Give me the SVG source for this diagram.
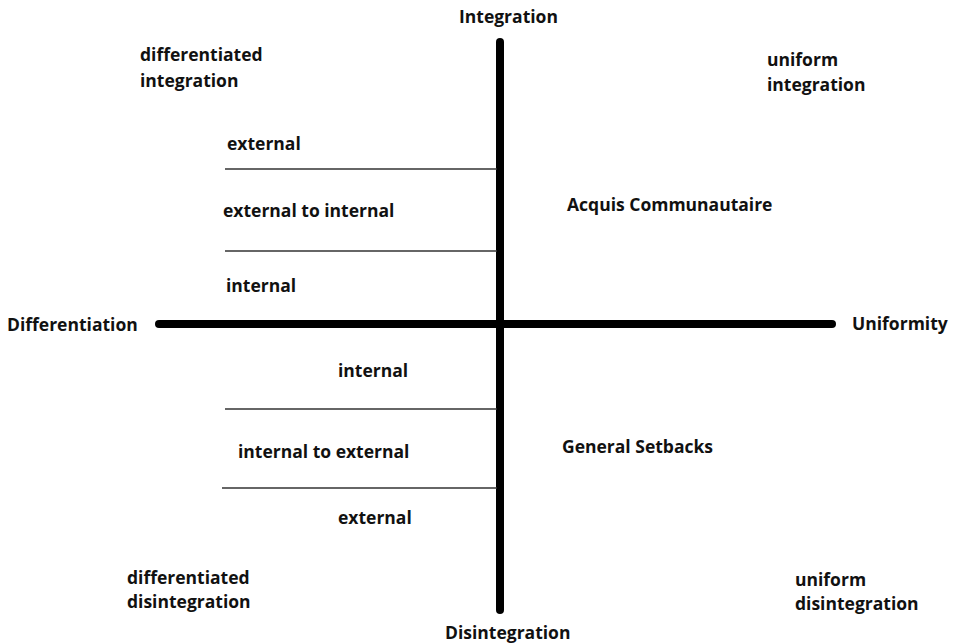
<svg xmlns="http://www.w3.org/2000/svg" width="960" height="643" viewBox="0 0 960 643">
<style>
text{font-family:"Open Sans","Liberation Sans",sans-serif;font-weight:700;font-size:17.5px;fill:#111;}
.axis{stroke:#000;stroke-width:8;stroke-linecap:round;fill:none;}
.div{stroke:#333;stroke-width:1.6;fill:none;}
</style>
<rect width="960" height="643" fill="#fff"/>
<g id="connectors">
<line class="axis" x1="500" y1="42" x2="500" y2="610"/>
<line class="axis" x1="159" y1="324" x2="832" y2="324"/>
<line class="div" x1="225" y1="169" x2="497" y2="169"/>
<line class="div" x1="225" y1="251" x2="497" y2="251"/>
<line class="div" x1="225" y1="409" x2="497" y2="409"/>
<line class="div" x1="222" y1="488" x2="497" y2="488"/>
</g>
<g id="integration"><text x="459" y="23">Integration</text></g>
<g id="disintegration"><text x="445" y="639">Disintegration</text></g>
<g id="differentiation"><text x="7" y="331">Differentiation</text></g>
<g id="uniformity"><text x="852" y="330">Uniformity</text></g>
<g id="differentiated-integration"><text x="140" y="61">differentiated</text><text x="140" y="87">integration</text></g>
<g id="uniform-integration"><text x="767" y="66">uniform</text><text x="767" y="91">integration</text></g>
<g id="differentiated-disintegration"><text x="127" y="584">differentiated</text><text x="127" y="608">disintegration</text></g>
<g id="uniform-disintegration"><text x="795" y="586">uniform</text><text x="795" y="610">disintegration</text></g>
<g id="upper-external"><text x="227" y="150">external</text></g>
<g id="external-to-internal"><text x="223" y="217">external to internal</text></g>
<g id="upper-internal"><text x="226" y="292">internal</text></g>
<g id="acquis"><text x="567" y="211">Acquis Communautaire</text></g>
<g id="lower-internal"><text x="338" y="377">internal</text></g>
<g id="internal-to-external"><text x="238" y="458">internal to external</text></g>
<g id="lower-external"><text x="338" y="524">external</text></g>
<g id="general-setbacks"><text x="562" y="453">General Setbacks</text></g>
</svg>
